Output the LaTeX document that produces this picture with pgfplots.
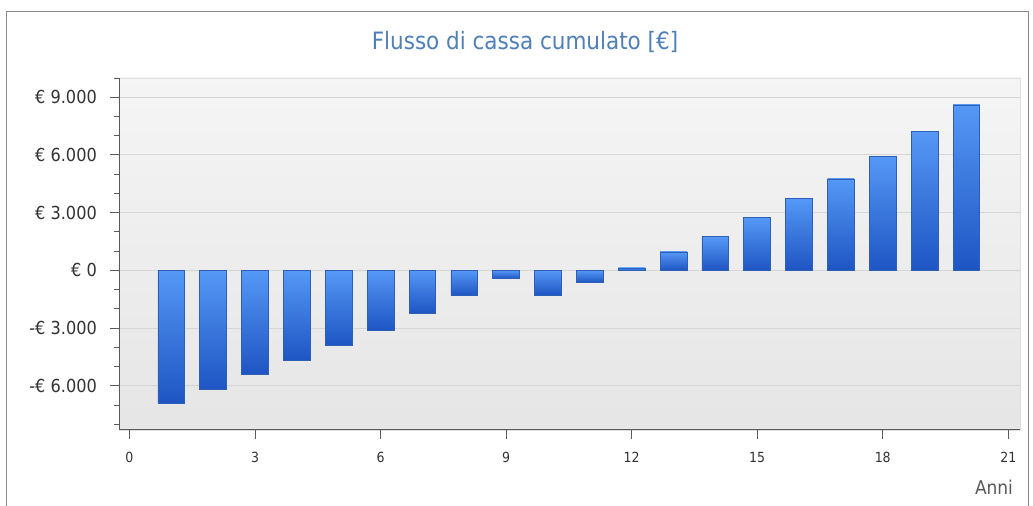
\documentclass[border=0pt]{standalone}
\usepackage{pgfplots}
\pgfplotsset{compat=1.18}
\usepackage{fontspec}
\setmainfont{DejaVu Sans Condensed}
\definecolor{titleblue}{HTML}{4F7FB8}
\definecolor{bartop}{HTML}{5598F5}
\definecolor{barbot}{HTML}{1E55C3}
\definecolor{baredge}{HTML}{2C5FB5}
\definecolor{axisgray}{HTML}{5A5A5A}
\definecolor{gridgray}{HTML}{D6D6D6}
\definecolor{framegray}{HTML}{8A8A8A}
\pgfplotstableread{
x y
1 -6890
2 -6200
3 -5400
4 -4700
5 -3920
6 -3100
7 -2220
8 -1310
9 -430
10 -1300
11 -640
12 125
13 960
14 1745
15 2750
16 3740
17 4750
18 5930
19 7230
20 8600
}\cashflow
\begin{document}
\begin{tikzpicture}
\useasboundingbox (0,0) rectangle (1033bp,506bp);
\fill[white] (0,0) rectangle (1033bp,506bp);
\draw[framegray, line width=1bp] (6bp,0) -- (6bp,494bp) -- (1028bp,494bp) -- (1028bp,0);
\begin{axis}[
  at={(119bp,76bp)}, anchor=south west,
  scale only axis, width=901bp, height=352bp,
  xmin=-0.25, xmax=21.28, ymin=-8300, ymax=10000,
  axis x line*=bottom, axis y line*=left,
  axis line style={axisgray, line width=1bp, -},
  axis background/.style={draw=gridgray!80, top color=white!96!black, bottom color=white!90!black},
  xtick={0,3,...,21},
  ytick={-6000,-3000,0,3000,6000,9000},
  yticklabels={-€ 6.000,-€ 3.000,€ 0,€ 3.000,€ 6.000,€ 9.000},
  scaled y ticks=false,
  minor ytick={-8000,-7000,-5000,-4000,-2000,-1000,1000,2000,4000,5000,7000,8000,10000},
  tick align=outside,
  major tick length=9bp, minor tick length=5bp,
  tick style={axisgray, line width=0.9bp},
  ymajorgrids, major grid style={gridgray, line width=0.9bp},
  /pgf/number format/assume math mode=true,
  yticklabel style={font=\fontsize{18}{20}\selectfont, text=black!80, inner sep=0pt, xshift=-13bp},
  xticklabel style={font=\fontsize{14}{16}\selectfont, text=black!80, inner sep=0pt, yshift=-13bp},
  clip=false,
]
\pgfplotsinvokeforeach{0,...,19}{
\addplot[ybar, bar width=26.7bp, bar shift=0pt, draw=baredge, line width=0.7bp,
  top color=bartop, bottom color=barbot,
  restrict expr to domain={\coordindex}{#1:#1}] table[x=x, y=y] {\cashflow};
}
\end{axis}
\node[text=titleblue, font=\fontsize{24}{28}\selectfont] at (525bp,464bp) {Flusso di cassa cumulato [€]};
\node[text=black!65, font=\fontsize{19}{22}\selectfont] at (994bp,19bp) {Anni};
\end{tikzpicture}
\end{document}
